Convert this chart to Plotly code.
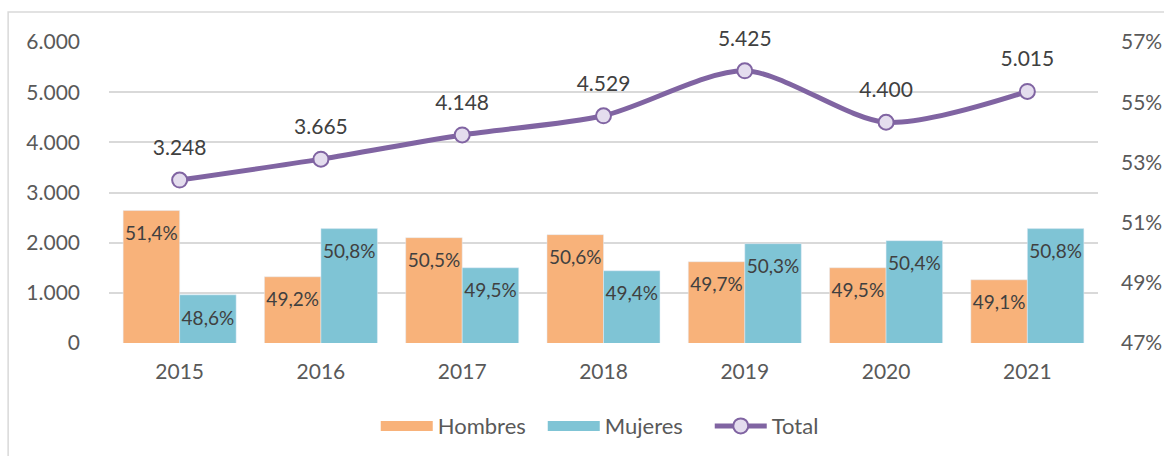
import plotly.graph_objects as go

years = ["2015", "2016", "2017", "2018", "2019", "2020", "2021"]
hombres_pct = [51.4, 49.2, 50.5, 50.6, 49.7, 49.5, 49.1]
mujeres_pct = [48.6, 50.8, 49.5, 49.4, 50.3, 50.4, 50.8]
total = [3248, 3665, 4148, 4529, 5425, 4400, 5015]

FONT = "Lato"
C_H = "#F8B27A"
C_M = "#7FC4D5"
C_T = "#8064A2"
fig = go.Figure()

# legend-only entries with wide swatches
for name, col in [("Hombres", C_H), ("Mujeres", C_M)]:
    fig.add_trace(go.Scatter(
        x=[years[0]], y=[None], name=name, mode="lines", yaxis="y2",
        line=dict(color=col, width=14), hoverinfo="skip",
    ))

for vals, name, col in [(hombres_pct, "Hombres", C_H), (mujeres_pct, "Mujeres", C_M)]:
    fig.add_trace(go.Bar(
        x=years, y=vals, name=name, yaxis="y2", showlegend=False,
        marker=dict(color=col),
        texttemplate="<span style='font-size:2px'>&nbsp;</span><br>%{y:.1f}%",
        textposition="inside", insidetextanchor="end",
        textangle=0, constraintext="none",
        textfont=dict(family=FONT, size=19, color="#404040"),
    ))

fig.add_trace(go.Scatter(
    x=years, y=total, name="Total", yaxis="y",
    mode="lines+markers",
    line=dict(color=C_T, width=5, shape="spline", smoothing=0.8),
    marker=dict(size=15, color="#E4DDEE", line=dict(color=C_T, width=2)),
    cliponaxis=False,
))
# data labels for the total line
fig.add_trace(go.Scatter(
    x=years, y=total, yaxis="y", showlegend=False, mode="text+markers",
    marker=dict(size=30, color="rgba(0,0,0,0)"),
    texttemplate="%{y:,d}", textposition="top center",
    textfont=dict(family=FONT, size=21, color="#404040"),
    cliponaxis=False, hoverinfo="skip",
))

fig.update_layout(
    width=1164, height=456,
    margin=dict(l=109, r=66, t=42, b=113, autoexpand=False),
    paper_bgcolor="white", plot_bgcolor="white",
    separators=",.",
    font=dict(family=FONT, size=21, color="#595959"),
    barmode="group", bargap=0.2, bargroupgap=0,
    showlegend=True,
    legend=dict(orientation="h", x=0.523, xanchor="center", y=-0.276, yanchor="middle",
                font=dict(family=FONT, size=22, color="#595959"),
                traceorder="normal", itemwidth=52, entrywidth=100),
    xaxis=dict(showline=False, showgrid=False, ticks="", tickfont=dict(size=21),
               ticklabelstandoff=14),
    yaxis=dict(range=[0, 6000], dtick=1000, tickformat=",d", showgrid=True,
               gridcolor="#D9D9D9", gridwidth=1.5, zeroline=False, showline=False,
               tickfont=dict(size=21), ticklabelstandoff=28, side="left"),
    yaxis2=dict(range=[47, 57], tick0=47, dtick=2, ticksuffix="%", overlaying="y",
                side="right", showgrid=False, zeroline=False, showline=False,
                tickfont=dict(size=21), ticklabelstandoff=22),
    shapes=[dict(type="rect", xref="paper", yref="paper",
                 x0=-0.102, x1=1.2, y0=-0.6, y1=1.0997,
                 line=dict(color="#D9D9D9", width=1.5), fillcolor="rgba(0,0,0,0)",
                 layer="below")],
)

fig.write_html("out.html", config={"displayModeBar": False},
               post_script="document.body.style.margin='0';document.body.style.overflow='hidden';")
